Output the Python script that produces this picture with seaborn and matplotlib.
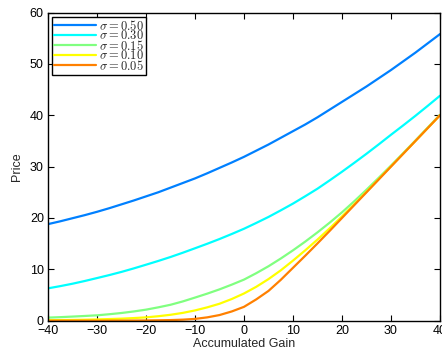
import matplotlib
matplotlib.use("Agg")
import matplotlib.pyplot as plt
import seaborn as sns
import pandas as pd

# ---- data ----
gain = [-40, -37.5, -35, -32.5, -30, -27.5, -25, -22.5, -20, -17.5, -15, -12.5,
        -10, -7.5, -5, -2.5, 0, 2.5, 5, 7.5, 10, 12.5, 15, 17.5, 20, 22.5,
        25, 27.5, 30, 32.5, 35, 37.5, 40]
sigma_labels = ["0.50", "0.30", "0.15", "0.10", "0.05"]
price_050 = [18.8, 19.35, 19.95, 20.55, 21.2, 21.9, 22.65, 23.4, 24.2, 25.0, 25.9, 26.8,
             27.7, 28.7, 29.75, 30.8, 31.9, 33.1, 34.3, 35.6, 36.9, 38.2, 39.6, 41.1,
             42.6, 44.1, 45.6, 47.2, 48.8, 50.5, 52.2, 54.0, 55.8]
price_030 = [6.3, 6.73, 7.2, 7.73, 8.3, 8.88, 9.5, 10.18, 10.9, 11.63, 12.4, 13.23,
             14.1, 14.98, 15.9, 16.88, 17.9, 19.03, 20.2, 21.48, 22.8, 24.23, 25.7, 27.33,
             29.0, 30.73, 32.5, 34.33, 36.2, 38.03, 39.9, 41.83, 43.8]
price_015 = [0.6, 0.69, 0.8, 0.92, 1.05, 1.26, 1.5, 1.8, 2.15, 2.6, 3.1, 3.75,
             4.5, 5.27, 6.1, 7.02, 8.0, 9.25, 10.6, 12.1, 13.7, 15.4, 17.2, 19.1,
             21.1, 23.25, 25.5, 27.83, 30.2, 32.63, 35.1, 37.6, 40.1]
price_010 = [0.1, 0.12, 0.15, 0.19, 0.25, 0.32, 0.4, 0.51, 0.65, 0.87, 1.15, 1.52,
             2.0, 2.6, 3.3, 4.22, 5.3, 6.6, 8.1, 9.8, 11.7, 13.7, 15.8, 18.0,
             20.3, 22.67, 25.1, 27.57, 30.05, 32.52, 35.0, 37.5, 40.0]
price_005 = [0.0, 0.0, 0.0, 0.0, 0.0, 0.01, 0.02, 0.03, 0.05, 0.08, 0.12, 0.2,
             0.35, 0.65, 1.1, 1.8, 2.7, 4.15, 5.8, 7.95, 10.3, 12.65, 15.05, 17.5,
             20.0, 22.5, 25.0, 27.5, 30.0, 32.5, 35.0, 37.5, 40.0]
line_colors = ["#0080ff", "#00ffff", "#80ff80", "#ffff00", "#ff8000"]

series = [price_050, price_030, price_015, price_010, price_005]
frames = []
for lab, vals in zip(sigma_labels, series):
    frames.append(pd.DataFrame({"gain": gain, "price": vals,
                                "sigma": r"$\sigma = %s$" % lab}))
df = pd.concat(frames, ignore_index=True)

sns.set_style("ticks")
plt.rcParams["font.family"] = ["Liberation Sans", "DejaVu Sans"]
plt.rcParams["mathtext.fontset"] = "cm"
plt.rcParams["axes.linewidth"] = 1.0

fig = plt.figure(figsize=(4.42, 3.55), dpi=100)
ax = fig.add_axes([48 / 442, (355 - 320.7) / 355, (440 - 48) / 442, (320.7 - 12.5) / 355])

hue_order = [r"$\sigma = %s$" % s for s in sigma_labels]
sns.lineplot(data=df, x="gain", y="price", hue="sigma", hue_order=hue_order,
             palette=line_colors, linewidth=1.6, ax=ax)

ax.set_xlim(-40, 40)
ax.set_ylim(0, 60)
ax.set_xticks(range(-40, 41, 10))
ax.set_yticks(range(0, 61, 10))
ax.set_xlabel("Accumulated Gain", fontsize=9, labelpad=1)
ax.set_ylabel("Price", fontsize=9, labelpad=5)
ax.tick_params(direction="in", length=4, width=0.8, labelsize=9, colors="black",
               top=True, right=True, pad=3)
for sp in ax.spines.values():
    sp.set_visible(True)
    sp.set_color("black")
    sp.set_linewidth(1.0)

leg = ax.legend(loc="upper left", fontsize=9, frameon=True, fancybox=False,
                edgecolor="black", framealpha=1, labelspacing=-0.28,
                borderpad=0.15, handlelength=3.3, handletextpad=0.3,
                borderaxespad=0.35)
leg.get_frame().set_linewidth(1.0)
for h in leg.get_lines():
    h.set_linewidth(1.6)

fig.savefig("out.png", dpi=100)
